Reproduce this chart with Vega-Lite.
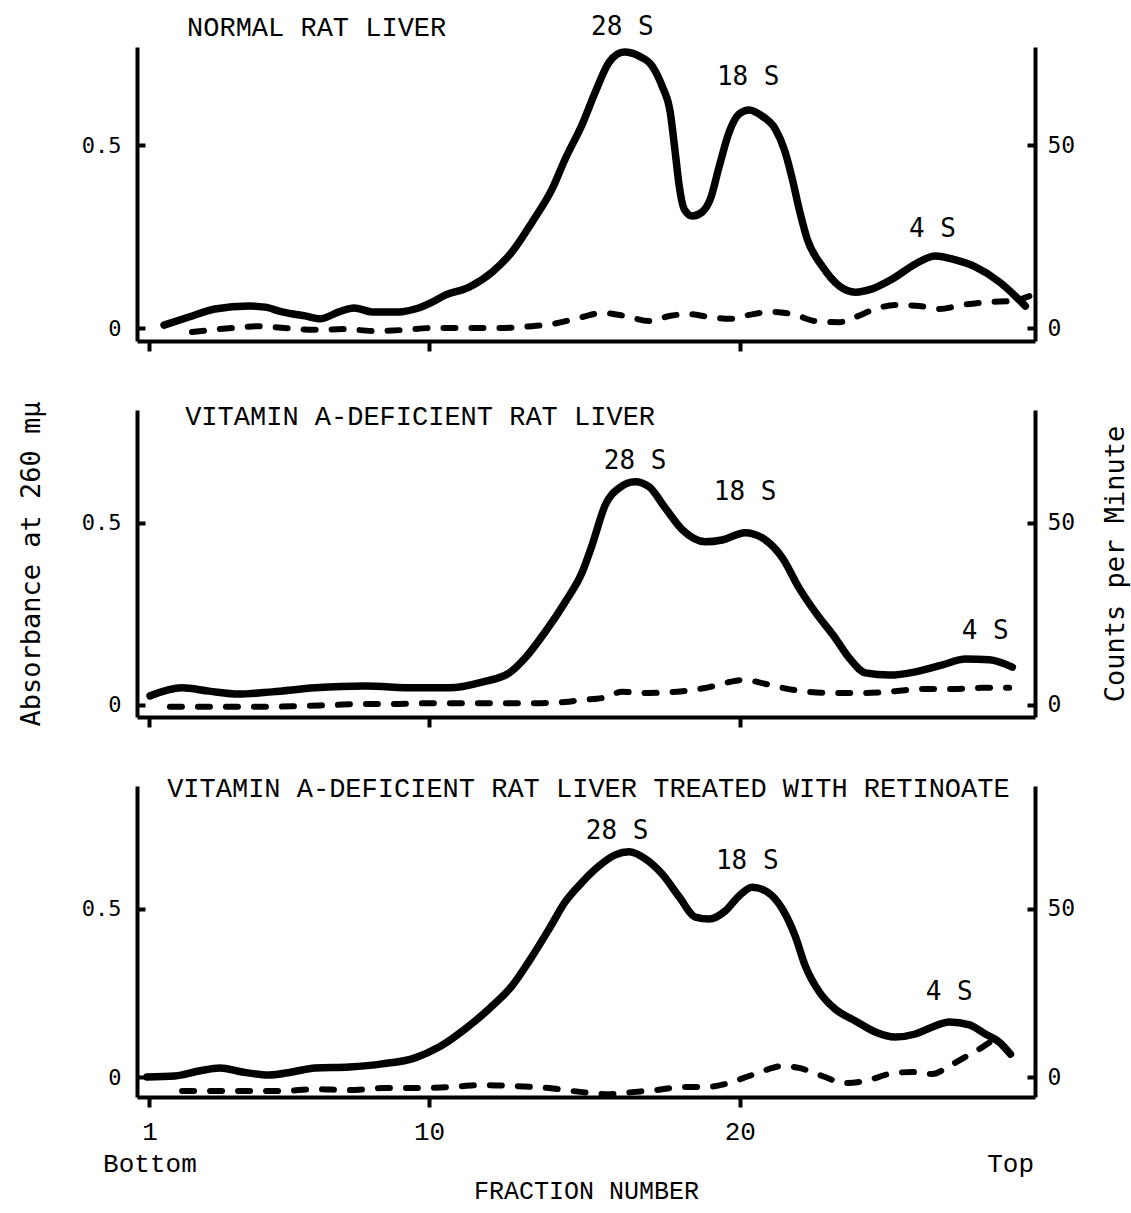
{
  "$schema": "https://vega.github.io/schema/vega-lite/v6.json",
  "padding": {"left": 17, "top": 14, "right": 2, "bottom": 4},
  "background": "white",
  "config": {
    "view": {"stroke": null},
    "axis": {
      "domainColor": "black", "domainWidth": 4, "tickColor": "black", "tickWidth": 4,
      "labelColor": "black", "labelFont": "DejaVu Sans Mono", "labelFontSize": 22,
      "grid": false, "titleColor": "black", "titleFont": "DejaVu Sans Mono",
      "titleFontSize": 27, "titleFontWeight": "normal"
    }
  },
  "spacing": 69,
  "bounds": "flush",
  "datasets": {
    "abs1": [
      {"fraction": 1.47, "absorbance": 0.008}, {"fraction": 2.27, "absorbance": 0.030}, {"fraction": 3.11, "absorbance": 0.052},
      {"fraction": 4.21, "absorbance": 0.060}, {"fraction": 4.72, "absorbance": 0.057}, {"fraction": 5.27, "absorbance": 0.044},
      {"fraction": 6.01, "absorbance": 0.033}, {"fraction": 6.49, "absorbance": 0.025}, {"fraction": 7.10, "absorbance": 0.044},
      {"fraction": 7.59, "absorbance": 0.055}, {"fraction": 8.17, "absorbance": 0.044}, {"fraction": 9.04, "absorbance": 0.044},
      {"fraction": 9.55, "absorbance": 0.052}, {"fraction": 10.10, "absorbance": 0.071}, {"fraction": 10.52, "absorbance": 0.090},
      {"fraction": 11.29, "absorbance": 0.112}, {"fraction": 12.03, "absorbance": 0.153}, {"fraction": 12.67, "absorbance": 0.208},
      {"fraction": 13.32, "absorbance": 0.290}, {"fraction": 13.96, "absorbance": 0.380}, {"fraction": 14.38, "absorbance": 0.462},
      {"fraction": 14.93, "absorbance": 0.557}, {"fraction": 15.35, "absorbance": 0.645}, {"fraction": 15.80, "absorbance": 0.727},
      {"fraction": 16.28, "absorbance": 0.754}, {"fraction": 16.76, "absorbance": 0.743}, {"fraction": 17.18, "absorbance": 0.716},
      {"fraction": 17.50, "absorbance": 0.661}, {"fraction": 17.76, "absorbance": 0.590}, {"fraction": 17.92, "absorbance": 0.481},
      {"fraction": 18.05, "absorbance": 0.388}, {"fraction": 18.21, "absorbance": 0.325}, {"fraction": 18.47, "absorbance": 0.306},
      {"fraction": 18.79, "absorbance": 0.317}, {"fraction": 19.05, "absorbance": 0.352}, {"fraction": 19.34, "absorbance": 0.443},
      {"fraction": 19.66, "absorbance": 0.536}, {"fraction": 19.98, "absorbance": 0.585}, {"fraction": 20.30, "absorbance": 0.596},
      {"fraction": 20.72, "absorbance": 0.579}, {"fraction": 21.14, "absorbance": 0.544}, {"fraction": 21.46, "absorbance": 0.481},
      {"fraction": 21.69, "absorbance": 0.407}, {"fraction": 21.91, "absorbance": 0.325}, {"fraction": 22.17, "absorbance": 0.243},
      {"fraction": 22.65, "absorbance": 0.169}, {"fraction": 23.20, "absorbance": 0.115}, {"fraction": 23.72, "absorbance": 0.098},
      {"fraction": 24.26, "absorbance": 0.107}, {"fraction": 24.91, "absorbance": 0.134}, {"fraction": 25.65, "absorbance": 0.175},
      {"fraction": 26.29, "absorbance": 0.197}, {"fraction": 26.94, "absorbance": 0.186}, {"fraction": 27.58, "absorbance": 0.167},
      {"fraction": 28.35, "absorbance": 0.126}, {"fraction": 28.87, "absorbance": 0.087}, {"fraction": 29.19, "absorbance": 0.060}
    ],
    "cpm1": [
      {"fraction": 2.37, "cpm": -1.1}, {"fraction": 3.66, "cpm": 0.0}, {"fraction": 4.53, "cpm": 0.5}, {"fraction": 5.36, "cpm": 0.0},
      {"fraction": 6.33, "cpm": -0.5}, {"fraction": 7.30, "cpm": -0.3}, {"fraction": 8.17, "cpm": -0.8}, {"fraction": 9.23, "cpm": -0.5},
      {"fraction": 10.10, "cpm": 0.0}, {"fraction": 11.16, "cpm": 0.0}, {"fraction": 12.25, "cpm": 0.0}, {"fraction": 13.32, "cpm": 0.5},
      {"fraction": 13.96, "cpm": 1.1}, {"fraction": 14.93, "cpm": 3.0}, {"fraction": 15.57, "cpm": 4.1}, {"fraction": 16.31, "cpm": 3.3},
      {"fraction": 17.08, "cpm": 1.9}, {"fraction": 17.73, "cpm": 3.3}, {"fraction": 18.37, "cpm": 3.8}, {"fraction": 19.02, "cpm": 3.0},
      {"fraction": 19.66, "cpm": 2.5}, {"fraction": 20.30, "cpm": 3.6}, {"fraction": 21.04, "cpm": 4.4}, {"fraction": 21.78, "cpm": 3.6},
      {"fraction": 22.42, "cpm": 1.9}, {"fraction": 23.20, "cpm": 1.6}, {"fraction": 23.72, "cpm": 3.0}, {"fraction": 24.36, "cpm": 5.2},
      {"fraction": 25.00, "cpm": 6.3}, {"fraction": 25.78, "cpm": 6.0}, {"fraction": 26.42, "cpm": 5.2}, {"fraction": 27.16, "cpm": 6.3},
      {"fraction": 28.03, "cpm": 7.1}, {"fraction": 28.77, "cpm": 7.4}, {"fraction": 29.32, "cpm": 8.7}
    ],
    "abs2": [
      {"fraction": 1.02, "absorbance": 0.025}, {"fraction": 2.05, "absorbance": 0.047}, {"fraction": 2.92, "absorbance": 0.038},
      {"fraction": 3.88, "absorbance": 0.030}, {"fraction": 4.95, "absorbance": 0.036}, {"fraction": 6.33, "absorbance": 0.047},
      {"fraction": 7.94, "absorbance": 0.052}, {"fraction": 9.55, "absorbance": 0.047}, {"fraction": 10.65, "absorbance": 0.047},
      {"fraction": 11.71, "absorbance": 0.063}, {"fraction": 12.58, "absorbance": 0.088}, {"fraction": 13.09, "absorbance": 0.129},
      {"fraction": 13.74, "absorbance": 0.201}, {"fraction": 14.38, "absorbance": 0.283}, {"fraction": 14.93, "absorbance": 0.365},
      {"fraction": 15.25, "absorbance": 0.440}, {"fraction": 15.67, "absorbance": 0.549}, {"fraction": 16.12, "absorbance": 0.596},
      {"fraction": 16.63, "absorbance": 0.613}, {"fraction": 17.08, "absorbance": 0.599}, {"fraction": 17.60, "absorbance": 0.541},
      {"fraction": 18.15, "absorbance": 0.481}, {"fraction": 18.89, "absorbance": 0.448}, {"fraction": 19.43, "absorbance": 0.453},
      {"fraction": 20.17, "absorbance": 0.473}, {"fraction": 20.72, "absorbance": 0.459}, {"fraction": 21.37, "absorbance": 0.404},
      {"fraction": 21.91, "absorbance": 0.321}, {"fraction": 22.43, "absorbance": 0.255}, {"fraction": 23.07, "absorbance": 0.184},
      {"fraction": 23.52, "absorbance": 0.129}, {"fraction": 24.04, "absorbance": 0.088}, {"fraction": 24.81, "absorbance": 0.082},
      {"fraction": 25.65, "absorbance": 0.091}, {"fraction": 26.52, "absorbance": 0.110}, {"fraction": 27.26, "absorbance": 0.126},
      {"fraction": 28.03, "absorbance": 0.124}, {"fraction": 28.77, "absorbance": 0.104}
    ],
    "cpm2": [
      {"fraction": 1.66, "cpm": -0.5}, {"fraction": 2.60, "cpm": -0.5}, {"fraction": 3.66, "cpm": -0.5}, {"fraction": 4.72, "cpm": -0.5},
      {"fraction": 5.82, "cpm": -0.3}, {"fraction": 6.88, "cpm": 0.0}, {"fraction": 7.94, "cpm": 0.3}, {"fraction": 9.04, "cpm": 0.3},
      {"fraction": 10.10, "cpm": 0.5}, {"fraction": 11.16, "cpm": 0.5}, {"fraction": 12.25, "cpm": 0.5}, {"fraction": 13.32, "cpm": 0.5},
      {"fraction": 14.38, "cpm": 0.8}, {"fraction": 14.93, "cpm": 1.4}, {"fraction": 15.57, "cpm": 1.9}, {"fraction": 16.21, "cpm": 3.6},
      {"fraction": 17.08, "cpm": 3.3}, {"fraction": 18.15, "cpm": 3.8}, {"fraction": 19.02, "cpm": 4.9}, {"fraction": 19.66, "cpm": 6.3},
      {"fraction": 20.17, "cpm": 6.9}, {"fraction": 20.72, "cpm": 6.0}, {"fraction": 21.37, "cpm": 4.7}, {"fraction": 22.24, "cpm": 3.6},
      {"fraction": 23.07, "cpm": 3.3}, {"fraction": 24.04, "cpm": 3.3}, {"fraction": 25.00, "cpm": 3.8}, {"fraction": 25.87, "cpm": 4.4},
      {"fraction": 26.84, "cpm": 4.4}, {"fraction": 27.81, "cpm": 4.7}, {"fraction": 28.67, "cpm": 4.7}
    ],
    "abs3": [
      {"fraction": 0.92, "absorbance": 0.000}, {"fraction": 1.82, "absorbance": 0.003}, {"fraction": 2.60, "absorbance": 0.018},
      {"fraction": 3.27, "absorbance": 0.027}, {"fraction": 3.98, "absorbance": 0.015}, {"fraction": 4.85, "absorbance": 0.006},
      {"fraction": 5.59, "absorbance": 0.015}, {"fraction": 6.33, "absorbance": 0.027}, {"fraction": 7.43, "absorbance": 0.030},
      {"fraction": 8.49, "absorbance": 0.039}, {"fraction": 9.55, "absorbance": 0.057}, {"fraction": 10.32, "absorbance": 0.089},
      {"fraction": 11.16, "absorbance": 0.143}, {"fraction": 12.03, "absorbance": 0.211}, {"fraction": 12.67, "absorbance": 0.271},
      {"fraction": 13.22, "absorbance": 0.345}, {"fraction": 13.86, "absorbance": 0.440}, {"fraction": 14.38, "absorbance": 0.521},
      {"fraction": 14.93, "absorbance": 0.580}, {"fraction": 15.47, "absorbance": 0.628}, {"fraction": 15.99, "absorbance": 0.661},
      {"fraction": 16.44, "absorbance": 0.670}, {"fraction": 16.96, "absorbance": 0.649}, {"fraction": 17.50, "absorbance": 0.604},
      {"fraction": 18.05, "absorbance": 0.536}, {"fraction": 18.57, "absorbance": 0.476}, {"fraction": 19.02, "absorbance": 0.470},
      {"fraction": 19.53, "absorbance": 0.494}, {"fraction": 19.98, "absorbance": 0.539}, {"fraction": 20.40, "absorbance": 0.565},
      {"fraction": 20.88, "absorbance": 0.551}, {"fraction": 21.37, "absorbance": 0.500}, {"fraction": 21.78, "absorbance": 0.420},
      {"fraction": 22.11, "absorbance": 0.330}, {"fraction": 22.56, "absorbance": 0.253}, {"fraction": 23.07, "absorbance": 0.202},
      {"fraction": 23.72, "absorbance": 0.167}, {"fraction": 24.36, "absorbance": 0.134}, {"fraction": 25.00, "absorbance": 0.119},
      {"fraction": 25.65, "absorbance": 0.128}, {"fraction": 26.20, "absorbance": 0.149}, {"fraction": 26.74, "absorbance": 0.164},
      {"fraction": 27.39, "absorbance": 0.155}, {"fraction": 27.90, "absorbance": 0.128}, {"fraction": 28.35, "absorbance": 0.104},
      {"fraction": 28.71, "absorbance": 0.068}
    ],
    "cpm3": [
      {"fraction": 2.05, "cpm": -4.2}, {"fraction": 3.11, "cpm": -4.2}, {"fraction": 4.21, "cpm": -4.2}, {"fraction": 5.27, "cpm": -4.2},
      {"fraction": 6.33, "cpm": -3.6}, {"fraction": 7.43, "cpm": -3.9}, {"fraction": 8.49, "cpm": -3.3}, {"fraction": 9.55, "cpm": -3.3},
      {"fraction": 10.65, "cpm": -3.0}, {"fraction": 11.71, "cpm": -2.4}, {"fraction": 12.78, "cpm": -2.7}, {"fraction": 13.86, "cpm": -3.3},
      {"fraction": 14.93, "cpm": -4.5}, {"fraction": 15.80, "cpm": -5.1}, {"fraction": 16.54, "cpm": -4.5}, {"fraction": 17.28, "cpm": -3.9},
      {"fraction": 18.15, "cpm": -3.0}, {"fraction": 18.89, "cpm": -3.0}, {"fraction": 19.53, "cpm": -2.1}, {"fraction": 20.30, "cpm": 0.3},
      {"fraction": 20.95, "cpm": 2.4}, {"fraction": 21.37, "cpm": 3.3}, {"fraction": 21.91, "cpm": 2.7}, {"fraction": 22.65, "cpm": 0.3},
      {"fraction": 23.39, "cpm": -1.8}, {"fraction": 24.04, "cpm": -1.2}, {"fraction": 24.81, "cpm": 0.9}, {"fraction": 25.55, "cpm": 1.5},
      {"fraction": 26.20, "cpm": 0.9}, {"fraction": 26.74, "cpm": 3.3}, {"fraction": 27.26, "cpm": 6.0}, {"fraction": 27.81, "cpm": 8.9},
      {"fraction": 28.35, "cpm": 12.2}
    ],
    "peaks1": [
      {"label": "28 S", "fraction": 16.22, "absorbance": 0.822},
      {"label": "18 S", "fraction": 20.27, "absorbance": 0.686},
      {"label": "4 S", "fraction": 26.2, "absorbance": 0.270}
    ],
    "peaks2": [
      {"label": "28 S", "fraction": 16.63, "absorbance": 0.670},
      {"label": "18 S", "fraction": 20.17, "absorbance": 0.585},
      {"label": "4 S", "fraction": 27.9, "absorbance": 0.203}
    ],
    "peaks3": [
      {"label": "28 S", "fraction": 16.05, "absorbance": 0.732},
      {"label": "18 S", "fraction": 20.24, "absorbance": 0.643},
      {"label": "4 S", "fraction": 26.74, "absorbance": 0.253}
    ],
    "title1": [{"label": "NORMAL RAT LIVER", "fraction": 2.21, "absorbance": 0.798}],
    "title2": [{"label": "VITAMIN A-DEFICIENT RAT LIVER", "fraction": 2.15, "absorbance": 0.769}],
    "title3": [{"label": "VITAMIN A-DEFICIENT RAT LIVER TREATED WITH RETINOATE", "fraction": 1.57, "absorbance": 0.833}]
  },
  "vconcat": [
    {
      "width": 898, "height": 294,
      "layer": [
        {
          "layer": [
            {
              "data": {"name": "abs1"},
              "mark": {"type": "line", "interpolate": "monotone", "color": "black", "strokeWidth": 7.5, "strokeCap": "round", "strokeJoin": "round"},
              "encoding": {
                "x": {"field": "fraction", "type": "quantitative", "scale": {"domain": [0.6, 29.5], "nice": false, "zero": false},
                      "axis": {"values": [1, 10, 20], "labels": false, "tickSize": 10, "title": null}},
                "y": {"field": "absorbance", "type": "quantitative", "scale": {"domain": [-0.0355, 0.768], "nice": false, "zero": false},
                      "axis": {"orient": "left", "values": [0, 0.5], "format": "~g", "tickSize": -8, "labelPadding": 24, "title": null}}
              }
            },
            {
              "data": {"name": "peaks1"},
              "mark": {"type": "text", "font": "DejaVu Sans Mono", "fontSize": 26, "align": "center", "baseline": "middle", "color": "black"},
              "encoding": {
                "x": {"field": "fraction", "type": "quantitative"},
                "y": {"field": "absorbance", "type": "quantitative"},
                "text": {"field": "label"}
              }
            },
            {
              "data": {"name": "title1"},
              "mark": {"type": "text", "font": "Liberation Mono", "fontSize": 27, "align": "left", "baseline": "alphabetic", "color": "black"},
              "encoding": {
                "x": {"field": "fraction", "type": "quantitative"},
                "y": {"field": "absorbance", "type": "quantitative"},
                "text": {"field": "label"}
              }
            }
          ]
        },
        {
          "data": {"name": "cpm1"},
          "mark": {"type": "line", "interpolate": "monotone", "color": "black", "strokeWidth": 6, "strokeDash": [12, 16], "strokeCap": "round"},
          "encoding": {
            "x": {"field": "fraction", "type": "quantitative"},
            "y": {"field": "cpm", "type": "quantitative", "scale": {"domain": [-3.55, 76.8], "nice": false, "zero": false},
                  "axis": {"orient": "right", "values": [0, 50], "tickSize": -8, "labelPadding": 20, "labelFontSize": 23, "title": null}}
          }
        }
      ],
      "resolve": {"scale": {"y": "independent"}}
    },
    {
      "width": 898, "height": 307,
      "layer": [
        {
          "layer": [
            {
              "data": {"name": "abs2"},
              "mark": {"type": "line", "interpolate": "monotone", "color": "black", "strokeWidth": 7.5, "strokeCap": "round", "strokeJoin": "round"},
              "encoding": {
                "x": {"field": "fraction", "type": "quantitative", "scale": {"domain": [0.6, 29.5], "nice": false, "zero": false},
                      "axis": {"values": [1, 10, 20], "labels": false, "tickSize": 10, "title": null}},
                "y": {"field": "absorbance", "type": "quantitative", "scale": {"domain": [-0.033, 0.81], "nice": false, "zero": false},
                      "axis": {"orient": "left", "values": [0, 0.5], "format": "~g", "tickSize": -8, "labelPadding": 24, "title": "Absorbance at 260 mμ", "titlePadding": 36}}
              }
            },
            {
              "data": {"name": "peaks2"},
              "mark": {"type": "text", "font": "DejaVu Sans Mono", "fontSize": 26, "align": "center", "baseline": "middle", "color": "black"},
              "encoding": {
                "x": {"field": "fraction", "type": "quantitative"},
                "y": {"field": "absorbance", "type": "quantitative"},
                "text": {"field": "label"}
              }
            },
            {
              "data": {"name": "title2"},
              "mark": {"type": "text", "font": "Liberation Mono", "fontSize": 27, "align": "left", "baseline": "alphabetic", "color": "black"},
              "encoding": {
                "x": {"field": "fraction", "type": "quantitative"},
                "y": {"field": "absorbance", "type": "quantitative"},
                "text": {"field": "label"}
              }
            }
          ]
        },
        {
          "data": {"name": "cpm2"},
          "mark": {"type": "line", "interpolate": "monotone", "color": "black", "strokeWidth": 6, "strokeDash": [12, 16], "strokeCap": "round"},
          "encoding": {
            "x": {"field": "fraction", "type": "quantitative"},
            "y": {"field": "cpm", "type": "quantitative", "scale": {"domain": [-3.3, 81.0], "nice": false, "zero": false},
                  "axis": {"orient": "right", "values": [0, 50], "tickSize": -8, "labelPadding": 20, "labelFontSize": 23, "title": "Counts per Minute", "titleAngle": 270, "titlePadding": 55}}
          }
        }
      ],
      "resolve": {"scale": {"y": "independent"}}
    },
    {
      "width": 898, "height": 311,
      "layer": [
        {
          "layer": [
            {
              "data": {"name": "abs3"},
              "mark": {"type": "line", "interpolate": "monotone", "color": "black", "strokeWidth": 7.5, "strokeCap": "round", "strokeJoin": "round"},
              "encoding": {
                "x": {"field": "fraction", "type": "quantitative", "scale": {"domain": [0.6, 29.5], "nice": false, "zero": false},
                      "axis": {"values": [1, 10, 20, 28.7], "tickSize": 10,
                               "labelExpr": "datum.value == 1 ? ['1', 'Bottom'] : (datum.value > 28 ? ['', 'Top'] : datum.label)",
                               "labelFont": "Liberation Mono", "labelFontSize": 26, "labelPadding": 11, "labelLineHeight": 32,
                               "tickOpacity": {"condition": {"test": "datum.value > 28", "value": 0}, "value": 1},
                               "title": "FRACTION NUMBER", "titleFont": "Liberation Mono", "titleFontSize": 25, "titlePadding": 2}},
                "y": {"field": "absorbance", "type": "quantitative", "scale": {"domain": [-0.0595, 0.866], "nice": false, "zero": false},
                      "axis": {"orient": "left", "values": [0, 0.5], "format": "~g", "tickSize": -8, "labelPadding": 24, "title": null}}
              }
            },
            {
              "data": {"name": "peaks3"},
              "mark": {"type": "text", "font": "DejaVu Sans Mono", "fontSize": 26, "align": "center", "baseline": "middle", "color": "black"},
              "encoding": {
                "x": {"field": "fraction", "type": "quantitative"},
                "y": {"field": "absorbance", "type": "quantitative"},
                "text": {"field": "label"}
              }
            },
            {
              "data": {"name": "title3"},
              "mark": {"type": "text", "font": "Liberation Mono", "fontSize": 27, "align": "left", "baseline": "alphabetic", "color": "black"},
              "encoding": {
                "x": {"field": "fraction", "type": "quantitative"},
                "y": {"field": "absorbance", "type": "quantitative"},
                "text": {"field": "label"}
              }
            }
          ]
        },
        {
          "data": {"name": "cpm3"},
          "mark": {"type": "line", "interpolate": "monotone", "color": "black", "strokeWidth": 6, "strokeDash": [12, 16], "strokeCap": "round"},
          "encoding": {
            "x": {"field": "fraction", "type": "quantitative"},
            "y": {"field": "cpm", "type": "quantitative", "scale": {"domain": [-5.95, 86.6], "nice": false, "zero": false},
                  "axis": {"orient": "right", "values": [0, 50], "tickSize": -8, "labelPadding": 20, "labelFontSize": 23, "title": null}}
          }
        }
      ],
      "resolve": {"scale": {"y": "independent"}}
    }
  ]
}
